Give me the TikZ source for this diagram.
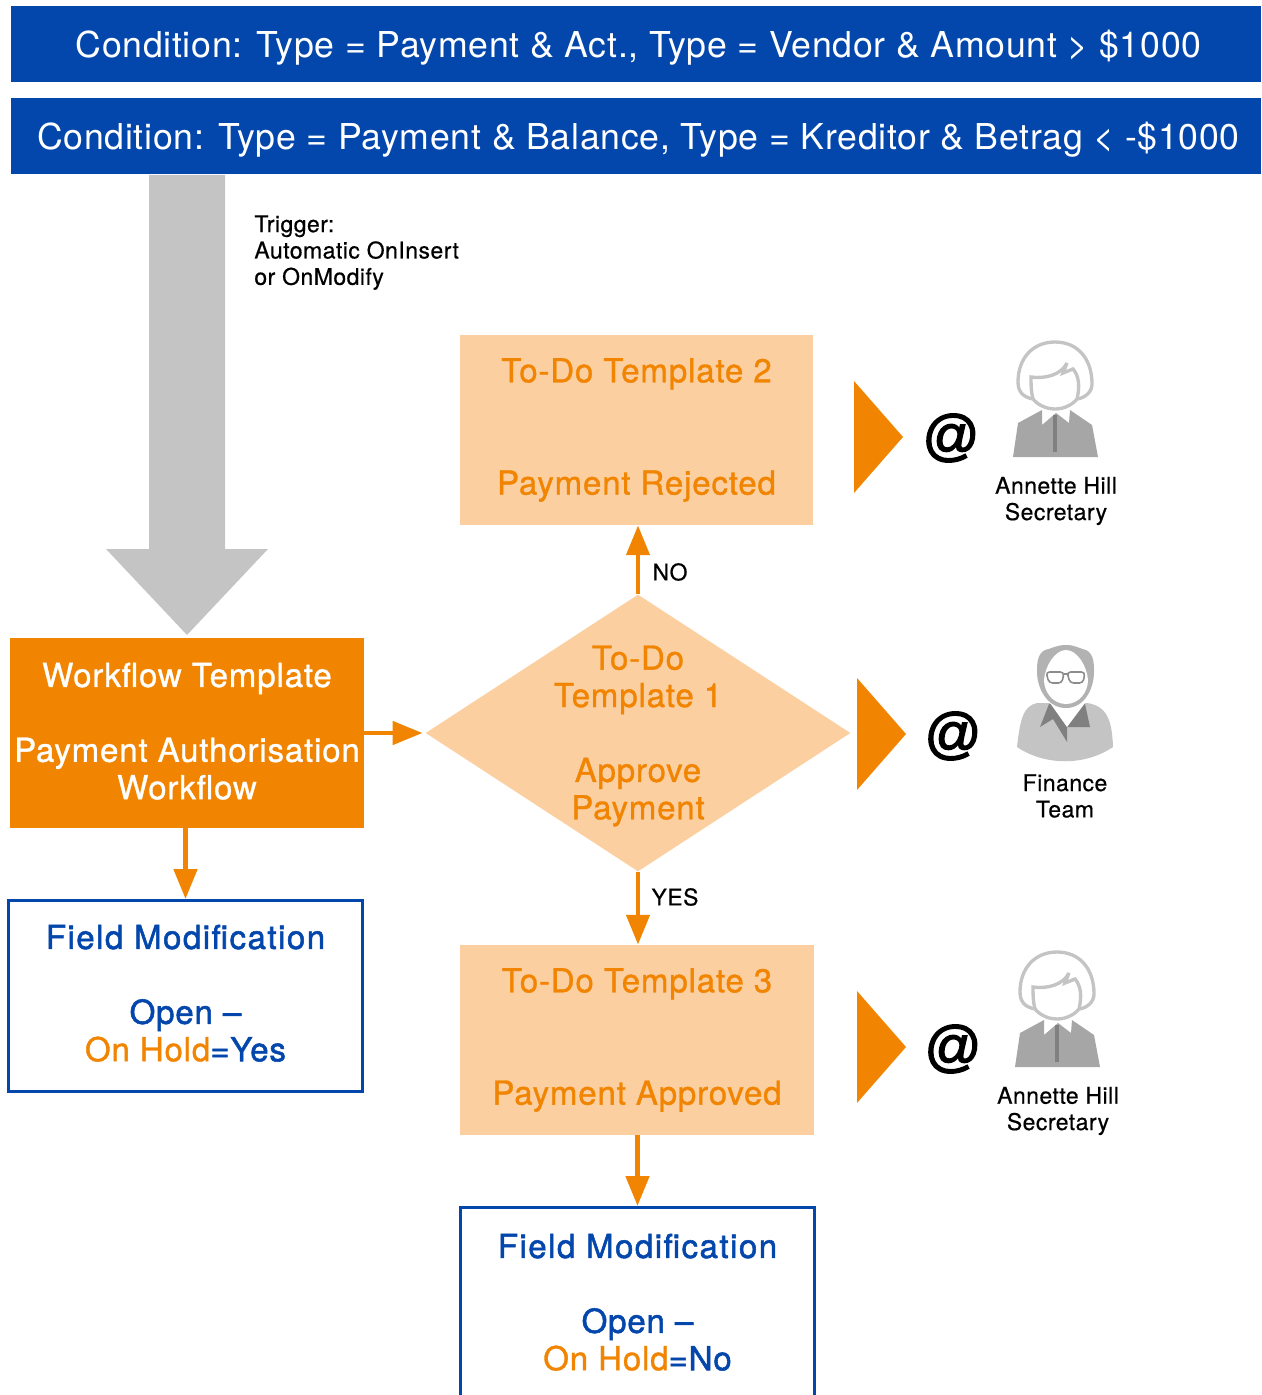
\documentclass[tikz,border=0pt]{standalone}
\usepackage{fontspec}
\setmainfont{TeX Gyre Heros}[LetterSpace=2]
\newfontfamily\medfont{TeX Gyre Heros}[LetterSpace=2.5,FakeBold=1]
\newfontfamily\fieldfont{TeX Gyre Heros}[LetterSpace=2.5,FakeBold=1.6]
\newfontfamily\headfont{TeX Gyre Heros}[LetterSpace=4.5,FakeBold=1.6]
\newfontfamily\lblfont{TeX Gyre Heros}[LetterSpace=2,FakeBold=0.5]
\newfontfamily\atfont{Liberation Sans}[FakeBold=2.5]
\usetikzlibrary{shapes.geometric,arrows.meta,positioning}
\definecolor{wfblue}{HTML}{0347AC}
\definecolor{wforange}{HTML}{F18400}
\definecolor{wfpale}{HTML}{FCCFA1}
\definecolor{wfgrey}{HTML}{C4C4C4}
\newcommand{\lift}[1]{\rule[-#1]{0pt}{0pt}}
\tikzset{
	condbox/.style={fill=wfblue, text=white, minimum width=25cm, minimum height=1.52cm, inner sep=0, font=\fontsize{20.3}{24}\selectfont},
	wfbox/.style={fill=wforange, text=white, minimum width=7.08cm, minimum height=3.8cm, inner sep=0, align=center, font=\medfont\fontsize{18.8}{21.3}\selectfont},
	todobox/.style={fill=wfpale, text=wforange, minimum width=7.08cm, minimum height=3.8cm, inner sep=0, align=center, font=\medfont\fontsize{18.8}{21.3}\selectfont},
	fieldbox/.style={draw=wfblue, line width=1.7pt, fill=white, text=wfblue, minimum width=7.08cm, minimum height=3.82cm, inner sep=0, align=center, font=\fieldfont\fontsize{18.8}{21.3}\selectfont},
	small/.style={inner sep=0, align=center, font=\lblfont\fontsize{13.1}{15}\selectfont},
	atsign/.style={inner sep=0, font=\atfont\fontsize{32}{32}\selectfont},
	line/.style={draw=wforange, line width=2.8pt, -{Triangle[length=17pt,width=13pt]}},
	woman/.pic={
		\fill[gray!70] (-13,10) -- (-37,23) -- (-42,57) -- (43,57) -- (37,25) -- (15,10) -- (14,23) -- (1,13) -- (-13,25) -- cycle;
		\draw[black!50, line width=1.9pt] (0,15) -- (0,52);
		\draw[wfgrey, line width=1.9pt, fill=white] (0,9) .. controls (-10,9) and (-18,4) .. (-22,-1) .. controls (-32,-3) and (-37,-8) .. (-37,-18) .. controls (-37,-42) and (-22,-58) .. (0,-58) .. controls (22,-58) and (37,-42) .. (37,-16) .. controls (37,-8) and (30,-2) .. (22,-1) .. controls (18,4) and (10,9) .. (0,9) -- cycle;
		\draw[wfgrey, line width=1.9pt] (-22,-1) .. controls (-24,-8) and (-24,-16) .. (-24,-23) .. controls (-10,-21) and (6,-25) .. (12,-37) -- (8,-27) -- (18,-31) .. controls (24,-24) and (25,-14) .. (22,-1);
	},
	man/.pic={
		\fill[wfgrey] (-28,3) .. controls (-42,6) and (-45,20) .. (-48,47) .. controls (-20,66) and (20,66) .. (48,47) .. controls (47,20) and (42,6) .. (22,3) -- cycle;
		\fill[black!50] (-16,4) -- (-25,27) -- (-12,19) -- (2,42) -- (2,27) -- (25,27) -- (20,4) -- cycle;
		\fill[white] (-15,3) -- (2,27) -- (20,3) -- cycle;
		\fill[black!30] (1,-55) .. controls (-8,-55) and (-12,-52) .. (-20,-50) .. controls (-28,-46) and (-28,-36) .. (-28,-28) .. controls (-28,-12) and (-18,8) .. (1,8) .. controls (20,8) and (29,-12) .. (29,-28) .. controls (29,-36) and (29,-46) .. (21,-50) .. controls (13,-52) and (10,-55) .. (1,-55) -- cycle;
		\fill[white] (1,-50) .. controls (-10,-50) and (-20,-34) .. (-21,-20) .. controls (-21,-8) and (-12,4) .. (1,4) .. controls (14,4) and (23,-8) .. (23,-20) .. controls (22,-34) and (12,-50) .. (1,-50) -- cycle;
		\draw[black!45, line width=0.9pt, rounded corners=2pt] (-19,-28) -- (-1,-28) -- (-3,-17) -- (-16,-17) -- cycle (2,-28) -- (20,-28) -- (18,-17) -- (5,-17) -- cycle (-1,-26) -- (2,-26);
	}
}

\begin{document}
\begin{tikzpicture}[x=0.02cm, y=-0.02cm]
	\useasboundingbox (0,0) rectangle (1261,1395);
	\node[condbox] (cond1) at (636,44) {\rule{0pt}{0.68cm}\hspace*{0.1cm}Condition: Type = Payment \& Act., Type = Vendor \& Amount > \$1000};
	\node[condbox] (cond2) at (636,136) {\rule{0pt}{0.68cm}\hspace*{0.1cm}Condition: Type = Payment \& Balance, Type = Kreditor \& Betrag < -\$1000};
	% trigger
	\fill[wfgrey] (149,175) -- (225,175) -- (225,549) -- (268,549) -- (187,635) -- (106,549) -- (149,549) -- cycle;
	\node[small, align=left, anchor=north west] (trig) at (254,215) {Trigger:\\Automatic OnInsert\\or OnModify};
	% left column
	\node[wfbox] (wf) at (187,733) {Workflow Template\\[\baselineskip]Payment Authorisation\\Workflow\lift{0.08cm}};
	\node[fieldbox] (field1) at (185.5,996) {{\headfont Field Modification}\\[\baselineskip]Open –\\\textcolor{wforange}{\medfont On Hold}=Yes\lift{0.12cm}};
	% middle column
	\node[todobox] (todo2) at (636.5,430) {To-Do Template 2\\[2\baselineskip]Payment Rejected};
	\node[diamond, fill=wfpale, minimum width=8.5cm, minimum height=5.54cm, aspect=1.53, inner sep=0] (todo1) at (638,733) {};
	\node[align=center, inner sep=0, text=wforange, font=\medfont\fontsize{18.8}{21.3}\selectfont] (todo1txt) at (638,736) {To-Do\\Template 1\\[\baselineskip]Approve\\Payment};
	\node[todobox] (todo3) at (637,1040) {To-Do Template 3\\[2\baselineskip]Payment Approved};
	\node[fieldbox] (field2) at (637.5,1303) {{\headfont Field Modification}\\[\baselineskip]Open –\\\textcolor{wforange}{\medfont On Hold}=No\lift{0.04cm}};
	\draw[line, shorten >=1.5pt] (wf.east) -- (todo1.west);
	\draw[line] (wf.south -| field1.north) -- (field1.north);
	\draw[line] (todo1.north) -- (todo1.north |- todo2.south);
	\draw[line] (todo1.south) -- (todo1.south |- todo3.north);
	\draw[line] (todo3.south -| field2.north) -- (field2.north);
	\node[small] (no) at (670,572) {NO};
	\node[small] (yes) at (675,897) {YES};
	% right column
	\foreach \px/\py in {854/437, 857/734, 857/1047}
		\fill[wforange] (\px,\py-56) -- (\px+49,\py) -- (\px,\py+56) -- cycle;
	\node[atsign] (at2) at (951,438) {@};
	\node[atsign] (at1) at (953,736) {@};
	\node[atsign] (at3) at (953,1049) {@};
	\pic at (1055,400) {woman};
	\pic at (1065,700) {man};
	\pic at (1057,1010) {woman};
	\node[small] (who2) at (1056,501) {Annette Hill\\Secretary};
	\node[small] (who1) at (1065,796) {Finance\\Team};
	\node[small] (who3) at (1058,1111) {Annette Hill\\Secretary};
\end{tikzpicture}
\end{document}
